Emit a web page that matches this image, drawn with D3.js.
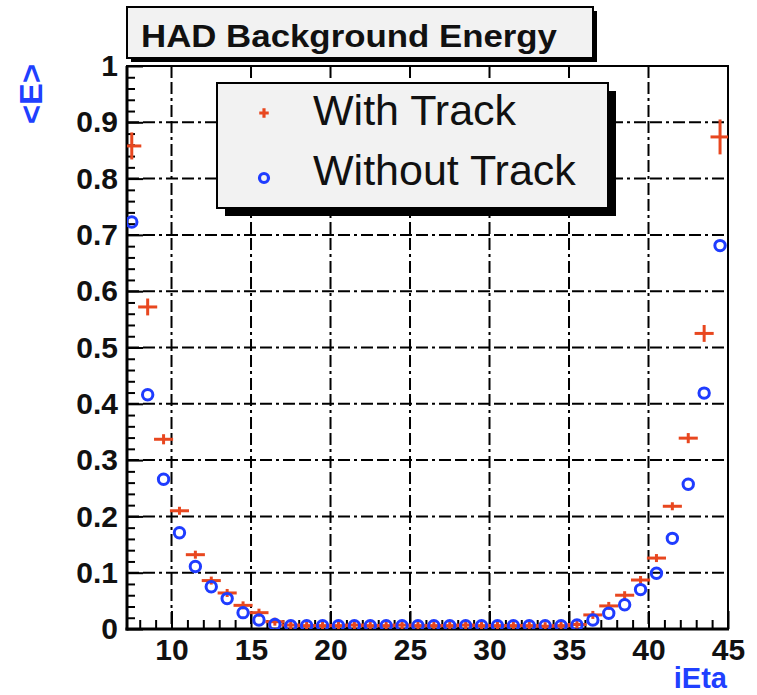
<!DOCTYPE html>
<html>
<head>
<meta charset="utf-8">
<script src="https://cdn.jsdelivr.net/npm/d3@7"></script>
<style>
  html, body { margin: 0; padding: 0; background: #fff; }
  svg { display: block; }
  text { font-family: "Liberation Sans", Arial, Helvetica, sans-serif; }
</style>
</head>
<body>
<svg id="chart" width="757" height="695"></svg>
<script>
// iEta bin centres
const ieta = [7.5, 8.5, 9.5, 10.5, 11.5, 12.5, 13.5, 14.5, 15.5, 16.5,
              17.5, 18.5, 19.5, 20.5, 21.5, 22.5, 23.5, 24.5, 25.5, 26.5,
              27.5, 28.5, 29.5, 30.5, 31.5, 32.5, 33.5, 34.5, 35.5, 36.5,
              37.5, 38.5, 39.5, 40.5, 41.5, 42.5, 43.5, 44.5];

// mean HAD background energy <E>, with track
const withTrack = [0.858, 0.572, 0.337, 0.210, 0.132, 0.086, 0.064, 0.042, 0.029, 0.013,
                   0.007, 0.006, 0.006, 0.006, 0.007, 0.006, 0.006, 0.007, 0.006, 0.006,
                   0.006, 0.007, 0.006, 0.006, 0.006, 0.006, 0.005, 0.006, 0.008, 0.025,
                   0.041, 0.060, 0.087, 0.126, 0.218, 0.339, 0.525, 0.874];
const withTrackErr = [0.024, 0.015, 0.009, 0.007, 0.006, 0.005, 0.005, 0.004, 0.004, 0.004,
                      0.003, 0.003, 0.003, 0.003, 0.003, 0.003, 0.003, 0.003, 0.003, 0.003,
                      0.003, 0.003, 0.003, 0.003, 0.003, 0.003, 0.003, 0.003, 0.003, 0.004,
                      0.004, 0.004, 0.005, 0.006, 0.007, 0.009, 0.015, 0.031];

// mean HAD background energy <E>, without track
const withoutTrack = [0.723, 0.416, 0.266, 0.171, 0.111, 0.075, 0.054, 0.029, 0.016, 0.008,
                      0.006, 0.006, 0.006, 0.006, 0.006, 0.006, 0.006, 0.006, 0.006, 0.006,
                      0.006, 0.006, 0.006, 0.006, 0.006, 0.006, 0.006, 0.006, 0.007, 0.016,
                      0.028, 0.043, 0.070, 0.099, 0.161, 0.257, 0.419, 0.681];

const xMajorTicks = [10, 15, 20, 25, 30, 35, 40, 45];
const xTickLabels = ["10", "15", "20", "25", "30", "35", "40", "45"];
const yMajorTicks = [0, 0.1, 0.2, 0.3, 0.4, 0.5, 0.6, 0.7, 0.8, 0.9, 1];
const yTickLabels = ["0", "0.1", "0.2", "0.3", "0.4", "0.5", "0.6", "0.7", "0.8", "0.9", "1"];
const seriesNames = ["With Track", "Without Track"];
const titleText = "HAD Background Energy";
const xTitle = "iEta";
const yTitle = "<E>";

const RED = "#e8471f";
const BLUE = "#1f3cff";
const AXIS_BLUE = "#2040ff";

const svg = d3.select("#chart");
const box = { left: 127, right: 728, top: 66, bottom: 629 };

const x = d3.scaleLinear().domain([7.2, 45]).range([box.left, box.right]);
const y = d3.scaleLinear().domain([0, 1]).range([box.bottom, box.top]);

svg.append("defs").append("clipPath").attr("id", "plotClip")
  .append("rect")
  .attr("x", box.left).attr("y", box.top)
  .attr("width", box.right - box.left).attr("height", box.bottom - box.top);

// dash-dot grid on the major divisions
const dash = "12 4 12 4 3 4";
const grid = svg.append("g").attr("stroke", "#000").attr("stroke-width", 2)
  .attr("stroke-dasharray", dash).attr("fill", "none");
grid.selectAll("line.v").data(xMajorTicks.filter(d => d < 45)).join("line")
  .attr("class", "v")
  .attr("x1", d => x(d)).attr("x2", d => x(d))
  .attr("y1", box.top).attr("y2", box.bottom);
grid.selectAll("line.h").data(yMajorTicks.filter(d => d > 0 && d < 1)).join("line")
  .attr("class", "h")
  .attr("x1", box.left).attr("x2", box.right)
  .attr("y1", d => y(d)).attr("y2", d => y(d));

// axes (ticks pointing into the frame)
const xMinor = d3.range(8, 46, 1).filter(d => !xMajorTicks.includes(d));
const yMinor = d3.range(0, 101, 2).map(d => d / 100).filter(d => Math.round(d * 100) % 10 !== 0);

const xAxis = svg.append("g").attr("transform", `translate(0,${box.bottom})`)
  .call(d3.axisBottom(x).tickValues(xMajorTicks).tickSize(-18).tickSizeOuter(0)
    .tickPadding(10).tickFormat((d, i) => xTickLabels[i]));
svg.append("g").attr("transform", `translate(0,${box.bottom})`)
  .call(d3.axisBottom(x).tickValues(xMinor).tickSize(-9).tickSizeOuter(0).tickFormat(""))
  .call(g => g.select(".domain").remove());

const yAxis = svg.append("g").attr("transform", `translate(${box.left},0)`)
  .call(d3.axisLeft(y).tickValues(yMajorTicks).tickSize(-16).tickSizeOuter(0)
    .tickPadding(9).tickFormat((d, i) => yTickLabels[i]));
svg.append("g").attr("transform", `translate(${box.left},0)`)
  .call(d3.axisLeft(y).tickValues(yMinor).tickSize(-8).tickSizeOuter(0).tickFormat(""))
  .call(g => g.select(".domain").remove());

svg.selectAll(".tick line").attr("stroke", "#000").attr("stroke-width", 2);
svg.selectAll(".domain").remove();
[xAxis, yAxis].forEach(g => g.selectAll("text")
  .attr("font-size", 30).attr("font-weight", "bold").attr("fill", "#111"));

// frame
svg.append("rect")
  .attr("x", box.left).attr("y", box.top)
  .attr("width", box.right - box.left).attr("height", box.bottom - box.top)
  .attr("fill", "none").attr("stroke", "#000").attr("stroke-width", 2);
svg.append("line").attr("x1", box.left).attr("x2", box.left)
  .attr("y1", box.top).attr("y2", box.bottom + 1.5)
  .attr("stroke", "#000").attr("stroke-width", 3);
svg.append("line").attr("x1", box.left - 1.5).attr("x2", box.right + 1)
  .attr("y1", box.bottom).attr("y2", box.bottom)
  .attr("stroke", "#000").attr("stroke-width", 3);

// data
const data = ieta.map((e, i) => ({
  e, wt: withTrack[i], wtErr: withTrackErr[i], wo: withoutTrack[i]
}));
const plot = svg.append("g").attr("clip-path", "url(#plotClip)");

// with track: error-bar crosses
const halfBin = 0.6;
const red = plot.append("g").attr("stroke", RED).attr("stroke-width", 3);
red.selectAll("line.hx").data(data).join("line").attr("class", "hx")
  .attr("x1", d => x(d.e - halfBin)).attr("x2", d => x(d.e + halfBin))
  .attr("y1", d => y(d.wt)).attr("y2", d => y(d.wt));
red.selectAll("line.vy").data(data).join("line").attr("class", "vy")
  .attr("x1", d => x(d.e)).attr("x2", d => x(d.e))
  .attr("y1", d => y(d.wt) - Math.max(4, y(0) - y(d.wtErr)))
  .attr("y2", d => y(d.wt) + Math.max(4, y(0) - y(d.wtErr)));

// without track: open circles
plot.append("g").selectAll("circle").data(data).join("circle")
  .attr("cx", d => x(d.e)).attr("cy", d => y(d.wo)).attr("r", 5.2)
  .attr("fill", "none").attr("stroke", BLUE).attr("stroke-width", 3);

// legend
const lg = svg.append("g");
const L = { x: 217, y: 83, w: 391, h: 125 };
lg.append("rect").attr("x", L.x + 8).attr("y", L.y + 8).attr("width", L.w).attr("height", L.h)
  .attr("fill", "#000");
lg.append("rect").attr("x", L.x).attr("y", L.y).attr("width", L.w).attr("height", L.h)
  .attr("fill", "#f2f2f2").attr("stroke", "#000").attr("stroke-width", 2);
lg.append("path").attr("d", d3.symbol(d3.symbolCross, 50)())
  .attr("transform", `translate(${L.x + 47},${L.y + 30})`).attr("fill", RED);
lg.append("circle").attr("cx", L.x + 47).attr("cy", L.y + 95).attr("r", 4.5)
  .attr("fill", "none").attr("stroke", BLUE).attr("stroke-width", 3.2);
lg.selectAll("text").data(seriesNames).join("text")
  .attr("x", 313).attr("y", (d, i) => [125, 185][i])
  .attr("font-size", 43).attr("fill", "#111").text(d => d);

// title box
const T = { x: 127, y: 7, w: 466, h: 51 };
svg.append("rect").attr("x", T.x + 4).attr("y", T.y + 4).attr("width", T.w).attr("height", T.h)
  .attr("fill", "#000");
svg.append("rect").attr("x", T.x).attr("y", T.y).attr("width", T.w).attr("height", T.h)
  .attr("fill", "#f2f2f2").attr("stroke", "#000").attr("stroke-width", 2);
svg.append("text").attr("x", 141).attr("y", 47)
  .attr("font-size", 31).attr("font-weight", "bold").attr("fill", "#111")
  .attr("textLength", 416).attr("lengthAdjust", "spacingAndGlyphs")
  .text(titleText);

// axis titles
svg.append("text").attr("x", 727).attr("y", 688).attr("text-anchor", "end")
  .attr("font-size", 29).attr("font-weight", "bold").attr("fill", AXIS_BLUE)
  .text(xTitle);
svg.append("text").attr("transform", "translate(42,94) rotate(-90)")
  .attr("text-anchor", "middle")
  .attr("font-size", 31).attr("font-weight", "bold").attr("fill", AXIS_BLUE)
  .attr("textLength", 60).attr("lengthAdjust", "spacingAndGlyphs")
  .text(yTitle);
</script>
</body>
</html>
